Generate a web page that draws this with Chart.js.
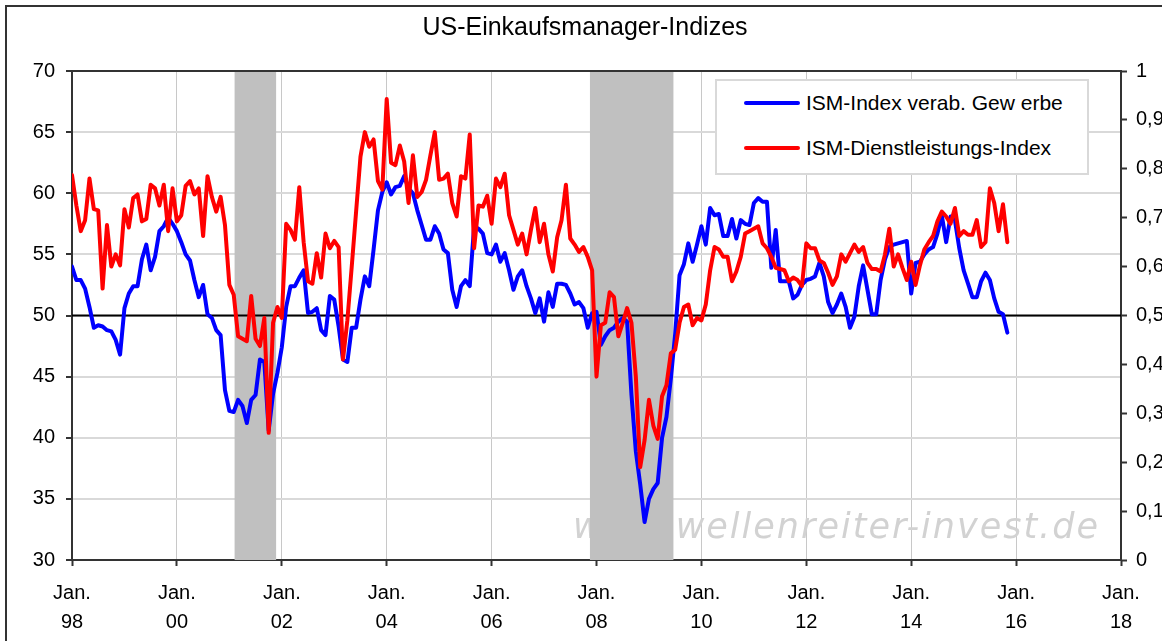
<!DOCTYPE html>
<html>
<head>
<meta charset="utf-8">
<title>US-Einkaufsmanager-Indizes</title>
<script src="https://cdn.jsdelivr.net/npm/chart.js@4.4.1/dist/chart.umd.min.js"></script>
<style>
  html, body { margin: 0; padding: 0; background: #fff; overflow: hidden; }
  #page { position: relative; width: 1162px; height: 641px; overflow: hidden; }
  #frame { position: absolute; left: 5px; top: 5px; width: 1300px; height: 800px; border: 2px solid #333; box-sizing: border-box; }
  #chart { position: absolute; left: 0; top: 0; }
  #legend { position: absolute; left: 715px; top: 79px; width: 374px; height: 96px; box-sizing: border-box;
            border: 2px solid #d9d9d9; background: #fff; font: 21px "Liberation Sans", Arial, sans-serif; color: #000; }
  #legend .row { position: absolute; left: 27px; height: 24px; display: flex; align-items: center; white-space: nowrap; }
  #legend .swatch { width: 56px; height: 4px; margin-right: 6px; border-radius: 2px; }
</style>
</head>
<body>
<div id="page">
  <div id="frame"></div>
  <canvas id="chart" width="1170" height="660"></canvas>
  <div id="legend"></div>
</div>
<script>
// monthly values, Jan 1998 .. Nov 2015 (one row per year)
const ismManufacturing = [
  54.0, 52.9, 52.9, 52.2, 50.7, 49.0, 49.2, 49.1, 48.8, 48.7, 48.0, 46.8,
  50.6, 51.8, 52.4, 52.4, 54.6, 55.8, 53.7, 54.8, 56.9, 57.3, 58.0, 57.5,
  56.9, 56.0, 55.0, 54.5, 52.9, 51.5, 52.5, 50.1, 49.8, 48.8, 48.4, 43.9,
  42.2, 42.1, 43.1, 42.6, 41.2, 43.1, 43.5, 46.4, 46.2, 40.6, 43.6, 45.3,
  47.4, 50.7, 52.4, 52.4, 53.1, 53.7, 50.2, 50.3, 50.6, 48.8, 48.4, 51.6,
  51.3, 49.1, 46.4, 46.2, 49.0, 49.0, 51.3, 53.2, 52.4, 55.4, 58.6, 60.1,
  60.9, 59.9, 60.5, 60.6, 61.4, 60.4, 60.0, 58.6, 57.4, 56.2, 56.2, 57.3,
  56.7, 55.4, 55.1, 52.1, 50.7, 52.4, 52.9, 52.4, 57.3, 57.1, 56.7, 55.1,
  55.0, 55.8, 54.4, 55.1, 53.7, 52.1, 53.2, 53.7, 52.4, 51.4, 50.2, 51.4,
  49.5, 51.9, 50.7, 52.6, 52.6, 52.5, 51.8, 50.9, 51.1, 50.6, 49.0, 50.2,
  50.3, 47.6, 48.3, 48.8, 49.0, 49.5, 49.8, 49.5, 43.5, 38.9, 36.2, 33.1,
  35.0, 35.8, 36.3, 40.0, 41.7, 44.8, 48.5, 53.3, 54.2, 55.9, 54.4, 55.8,
  57.3, 55.8, 58.8, 58.2, 58.3, 56.5, 56.5, 57.9, 56.3, 57.8, 57.5, 57.4,
  59.2, 59.6, 59.3, 59.3, 53.9, 57.0, 52.8, 52.8, 52.8, 51.4, 51.7, 52.5,
  52.9, 53.0, 53.2, 54.3, 53.2, 51.1, 50.2, 50.9, 51.8, 50.7, 49.0, 49.9,
  52.4, 54.1, 52.1, 50.1, 50.1, 52.9, 54.6, 55.6, 55.8, 55.9, 56.0, 56.1,
  51.8, 54.3, 54.4, 55.0, 55.4, 55.6, 56.7, 58.2, 56.0, 58.1, 57.8, 55.5,
  53.7, 52.6, 51.5, 51.5, 52.8, 53.5, 52.9, 51.4, 50.3, 50.1, 48.6
];

const ismServices = [
  61.5, 59.0, 56.9, 57.8, 61.2, 58.7, 58.6, 52.2, 57.4, 54.0, 55.0, 54.1,
  58.7, 57.2, 59.6, 59.9, 57.7, 57.9, 60.7, 60.4, 59.0, 60.7, 56.9, 60.4,
  57.7, 58.2, 60.6, 61.0, 59.9, 60.4, 56.5, 61.4, 59.7, 58.5, 59.7, 57.4,
  52.5, 51.7, 48.3, 48.1, 47.9, 51.6, 48.1, 47.5, 49.8, 40.4, 49.4, 50.7,
  49.8, 57.5, 57.0, 56.2, 60.5, 56.0, 52.8, 52.6, 55.1, 53.1, 56.7, 55.5,
  56.1, 55.6, 46.4, 49.6, 54.0, 58.5, 63.0, 65.0, 63.8, 64.4, 61.0, 60.3,
  67.7, 62.5, 62.3, 63.9, 62.6, 59.2, 63.1, 59.7, 60.1, 61.1, 63.1, 65.0,
  61.1, 61.2, 61.6, 59.2, 58.1, 61.4, 61.2, 64.8, 55.5, 59.0, 58.9, 59.8,
  57.5, 61.2, 60.5, 61.6, 58.2, 57.0, 55.8, 56.7, 55.0, 57.0, 58.8, 56.0,
  57.5, 55.0, 53.6, 56.4, 57.8, 60.7, 56.3, 55.8, 55.2, 55.6, 54.8, 53.7,
  45.0, 49.2, 49.4, 51.9, 51.5, 48.3, 49.4, 50.6, 49.4, 45.0, 37.6, 39.8,
  43.1, 41.0, 39.9, 43.4, 44.3, 46.9, 47.2, 49.4, 50.7, 50.9, 49.2, 49.8,
  49.6, 50.9, 53.7, 55.6, 55.4, 54.8, 54.8, 52.8, 53.6, 54.8, 56.7, 56.9,
  57.1, 57.3, 55.9, 55.5, 54.8, 53.9, 53.8, 53.7, 52.8, 53.1, 52.9, 52.4,
  55.9, 55.5, 55.5, 54.5, 54.3, 53.5, 52.5, 53.2, 55.0, 54.4, 55.1, 55.8,
  55.2, 55.6, 54.3, 53.8, 53.8, 53.6, 55.0, 57.1, 54.0, 55.0, 53.9, 52.9,
  54.4, 52.5, 54.1, 55.4, 56.0, 56.5, 57.7, 58.5, 58.1, 57.5, 58.8, 56.5,
  56.9, 56.6, 56.6, 57.8, 55.6, 56.0, 60.4, 59.2, 56.9, 59.1, 56.0
];

// x axis: months since Jan 1998, a label every two years
const yearLabels = ['98', '00', '02', '04', '06', '08', '10', '12', '14', '16', '18'];
const rightTickLabels = ['0', '0,1', '0,2', '0,3', '0,4', '0,5', '0,6', '0,7', '0,8', '0,9', '1'];

// recessions (shaded), in months since Jan 1998
const recessionStart = [37.2, 118.5];
const recessionEnd = [46.7, 137.6];

const threshold = 50;
const seriesNames = ['ISM-Index verab. Gew erbe', 'ISM-Dienstleistungs-Index'];
const seriesColors = ['#0000ff', '#ff0000'];
const watermark = 'www.wellenreiter-invest.de';

const FONT = '"Liberation Sans", Arial, sans-serif';
Chart.defaults.font.family = FONT;
Chart.defaults.color = '#000';

const toPoints = arr => arr.map((v, i) => ({ x: i, y: v }));

const backdrop = {
  id: 'backdrop',
  beforeDatasetsDraw(chart) {
    const { ctx, chartArea: a, scales: { x } } = chart;
    ctx.save();
    ctx.beginPath();
    ctx.rect(a.left, a.top, a.width, a.height);
    ctx.clip();

    // watermark sits under the shading
    ctx.font = 'oblique 35px "DejaVu Sans", Verdana, sans-serif';
    ctx.fillStyle = '#d2d2d2';
    ctx.textAlign = 'right';
    ctx.textBaseline = 'alphabetic';
    ctx.letterSpacing = '2px';
    ctx.fillText(watermark, 1100, 538);
    ctx.letterSpacing = '0px';

    ctx.fillStyle = '#c0c0c0';
    recessionStart.forEach((s, k) => {
      const x0 = x.getPixelForValue(s);
      const x1 = x.getPixelForValue(recessionEnd[k]);
      ctx.fillRect(x0, a.top, x1 - x0, a.height);
    });
    ctx.restore();
  },
  afterDatasetsDraw(chart) {
    const { ctx, chartArea: a } = chart;
    ctx.save();
    ctx.strokeStyle = '#333';
    ctx.lineWidth = 2;
    ctx.beginPath();
    ctx.moveTo(a.left, a.top);
    ctx.lineTo(a.right, a.top);
    ctx.stroke();
    ctx.restore();
  }
};

const tickFont = { family: FONT, size: 20 };

new Chart(document.getElementById('chart'), {
  type: 'line',
  data: {
    datasets: [
      {
        label: seriesNames[0],
        data: toPoints(ismManufacturing),
        borderColor: seriesColors[0],
        borderWidth: 4,
        order: 2,
        yAxisID: 'y'
      },
      {
        label: seriesNames[1],
        data: toPoints(ismServices),
        borderColor: seriesColors[1],
        borderWidth: 4,
        order: 1,
        yAxisID: 'y'
      },
      {
        label: 'threshold',
        data: [{ x: 0, y: threshold }, { x: 240, y: threshold }],
        borderColor: '#000',
        borderWidth: 2,
        order: 3,
        yAxisID: 'y'
      }
    ]
  },
  options: {
    responsive: false,
    animation: false,
    devicePixelRatio: 1,
    layout: { padding: 0 },
    elements: {
      point: { radius: 0 },
      line: { tension: 0, borderJoinStyle: 'round', borderCapStyle: 'round', fill: false }
    },
    plugins: {
      legend: { display: false },
      tooltip: { enabled: false },
      title: {
        display: true,
        text: 'US-Einkaufsmanager-Indizes',
        color: '#000',
        font: { family: FONT, size: 25, weight: 'normal' },
        padding: { top: 13, bottom: 28 }
      }
    },
    scales: {
      x: {
        type: 'linear',
        min: 0,
        max: 240,
        afterFit: s => { s.height = 100; },
        border: { color: '#333', width: 2 },
        grid: { color: '#c8c8c8', lineWidth: 1, tickColor: '#333', tickWidth: 2, tickLength: 6 },
        ticks: {
          stepSize: 24,
          autoSkip: false,
          maxRotation: 0,
          padding: 13,
          font: { ...tickFont, lineHeight: 1.45 },
          callback: v => ['Jan.', yearLabels[Math.round(v / 24)]]
        }
      },
      y: {
        position: 'left',
        min: 30,
        max: 70,
        afterFit: s => { s.width = 72; },
        border: { color: '#333', width: 2 },
        grid: { color: '#d9d9d9', lineWidth: 2, tickColor: '#333', tickWidth: 2, tickLength: 6 },
        ticks: { stepSize: 5, padding: 11, font: tickFont }
      },
      y2: {
        position: 'right',
        min: 0,
        max: 1,
        afterFit: s => { s.width = 49; },
        border: { color: '#333', width: 2 },
        grid: { drawOnChartArea: false, tickColor: '#333', tickWidth: 2, tickLength: 6 },
        ticks: { stepSize: 0.1, padding: 9, font: tickFont, callback: (v, i) => rightTickLabels[i] }
      }
    }
  },
  plugins: [backdrop]
});

// legend box
const legend = document.getElementById('legend');
seriesNames.forEach((name, k) => {
  const row = document.createElement('div');
  row.className = 'row';
  row.style.top = (k === 0 ? 9.7 : 55.3) + 'px';
  const sw = document.createElement('span');
  sw.className = 'swatch';
  sw.style.background = seriesColors[k];
  const txt = document.createElement('span');
  txt.textContent = name;
  row.appendChild(sw);
  row.appendChild(txt);
  legend.appendChild(row);
});
</script>
</body>
</html>
